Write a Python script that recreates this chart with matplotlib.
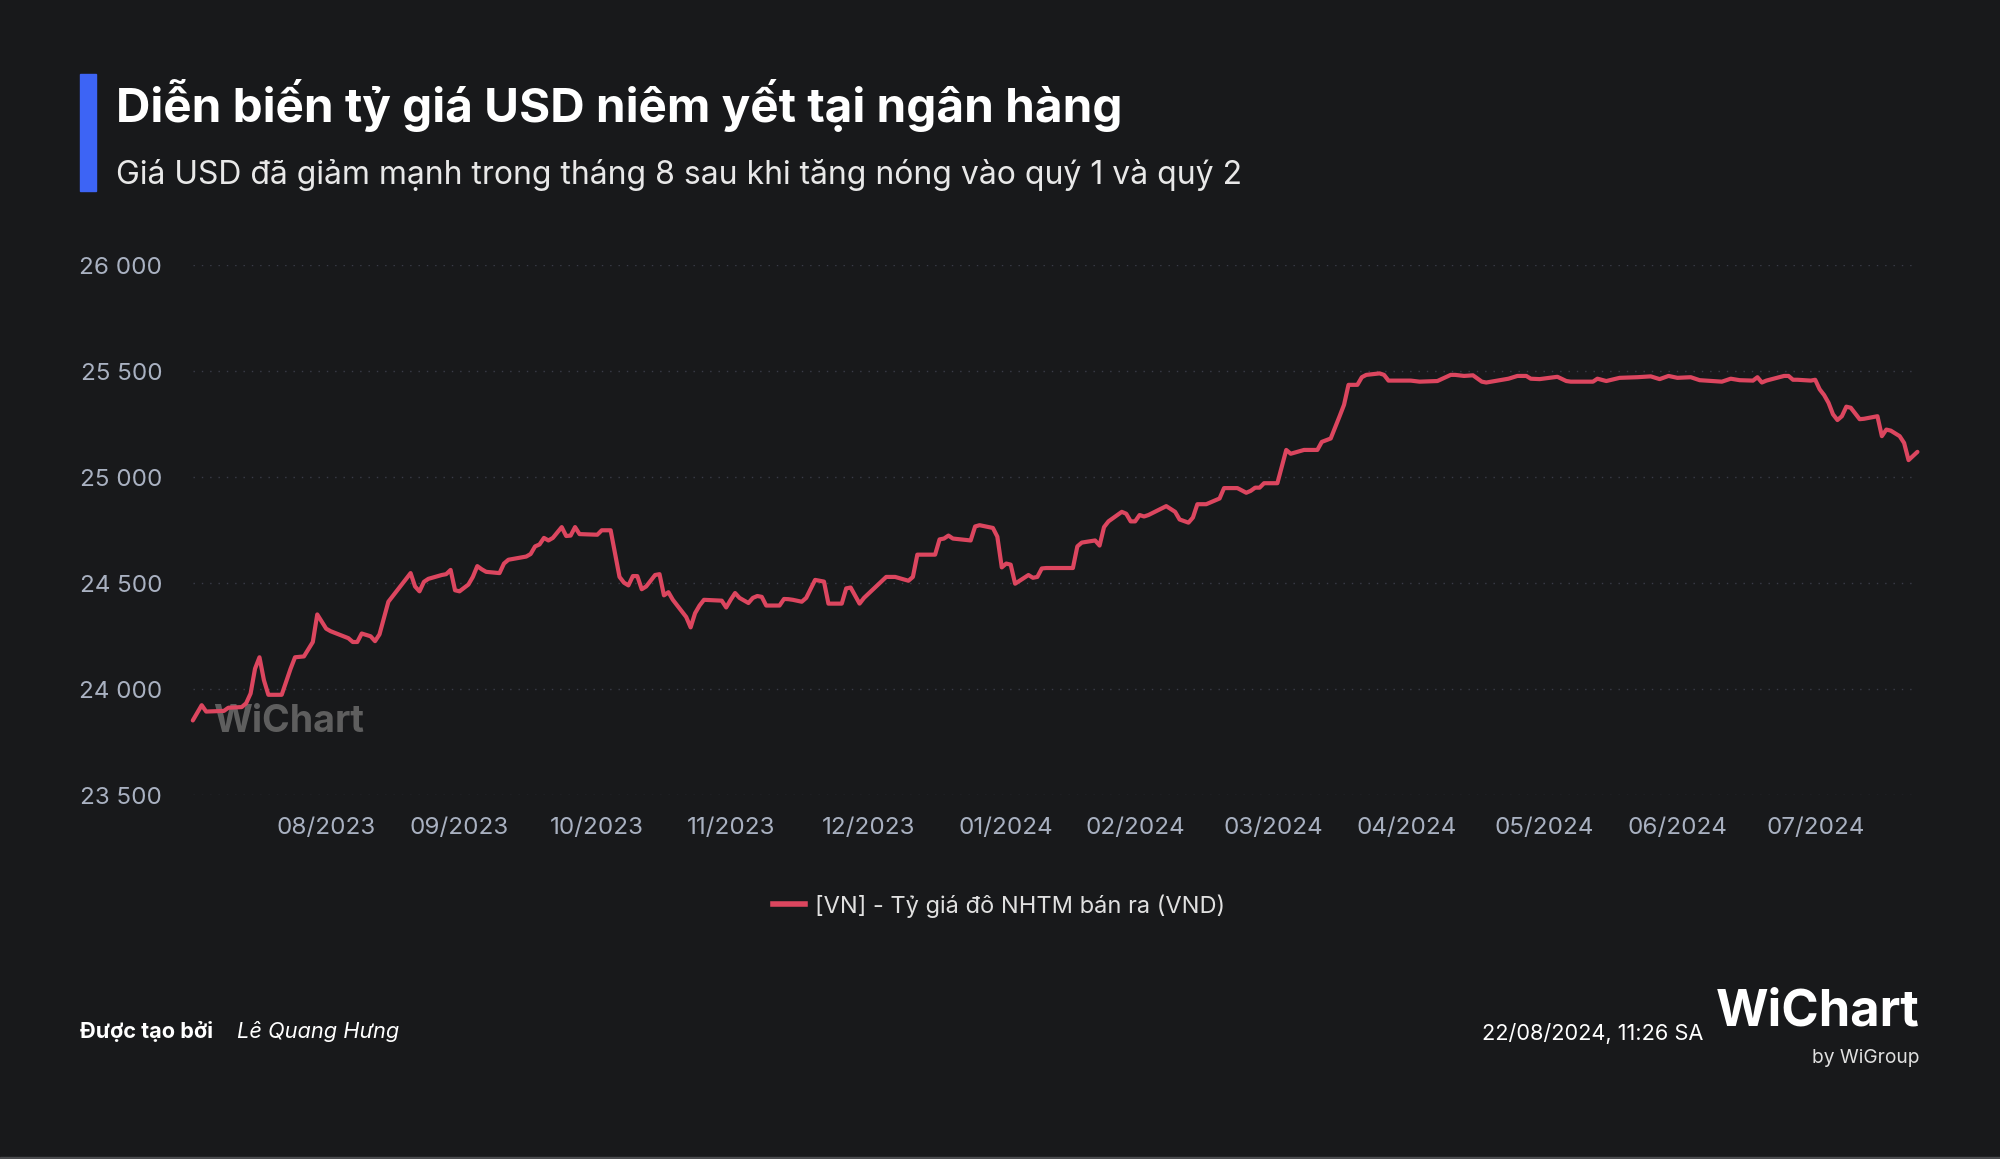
import pandas as pd
import matplotlib
matplotlib.use("Agg")
from matplotlib import pyplot as plt
from matplotlib.patches import Rectangle

plt.rcParams['font.family'] = ['Inter', 'DejaVu Sans']

# data: days since start, selling rate (VND per USD)
start_date = "2023-08-01"
day_offsets = [
    0, 2, 3, 7, 8, 11, 12, 13, 14, 15, 16, 17, 20, 22, 23, 25, 27, 28, 30, 31,
    35, 36, 37, 38, 40, 41, 42, 44, 49, 50, 51, 52, 53, 56, 57, 58, 59, 60, 62, 63,
    64, 65, 66, 69, 70, 71, 75, 76, 77, 78, 79, 80, 81, 83, 84, 85, 86, 87, 91, 92,
    94, 96, 97, 98, 99, 100, 101, 102, 104, 105, 106, 107, 108, 109, 111, 112, 113, 114, 115, 119,
    120, 121, 122, 123, 125, 126, 127, 128, 129, 132, 133, 134, 135, 137, 138, 140, 142, 143, 146, 147,
    148, 150, 151, 156, 158, 161, 162, 163, 167, 168, 169, 170, 171, 175, 176, 177, 180, 181, 182, 183,
    184, 185, 188, 189, 190, 191, 192, 198, 199, 200, 203, 204, 205, 206, 209, 210, 211, 212, 213, 214,
    215, 219, 221, 222, 224, 225, 226, 228, 231, 232, 235, 237, 238, 239, 240, 241, 244, 246, 247, 250,
    253, 254, 256, 258, 259, 260, 262, 263, 264, 267, 268, 269, 274, 276, 280, 283, 284, 286, 288, 290,
    291, 296, 298, 300, 301, 303, 307, 309, 310, 315, 316, 318, 321, 325, 328, 330, 332, 334, 337, 339,
    344, 346, 348, 351, 352, 353, 354, 358, 359, 360, 361, 364, 365, 366, 367, 368, 369, 370, 371, 372,
    373, 375, 376, 379, 380, 381, 382, 384, 385, 386, 388,
]
rate = [
    23852, 23924, 23894, 23897, 23912, 23915, 23933, 23979, 24096, 24150, 24042, 23973, 23973, 24096, 24150, 24154, 24222, 24352, 24285, 24273,
    24240, 24222, 24222, 24262, 24249, 24226, 24258, 24412, 24547, 24484, 24461, 24506, 24520, 24538, 24542, 24562, 24466, 24461, 24493, 24529,
    24580, 24565, 24553, 24547, 24592, 24610, 24625, 24637, 24673, 24682, 24713, 24701, 24713, 24764, 24722, 24724, 24764, 24731, 24728, 24749,
    24749, 24529, 24502, 24489, 24533, 24533, 24471, 24484, 24538, 24542, 24442, 24457, 24421, 24394, 24340, 24291, 24358, 24394, 24421, 24417,
    24385, 24421, 24453, 24430, 24406, 24430, 24439, 24435, 24394, 24394, 24425, 24424, 24421, 24412, 24430, 24515, 24507, 24403, 24403, 24475,
    24479, 24403, 24430, 24529, 24529, 24511, 24529, 24634, 24634, 24706, 24710, 24724, 24710, 24701, 24767, 24773, 24760, 24719, 24574, 24592,
    24587, 24497, 24538, 24525, 24529, 24569, 24571, 24571, 24673, 24691, 24701, 24677, 24764, 24791, 24836, 24827, 24791, 24791, 24821, 24814,
    24821, 24863, 24836, 24800, 24785, 24809, 24872, 24872, 24899, 24948, 24948, 24926, 24935, 24950, 24950, 24971, 24971, 25128, 25110, 25128,
    25128, 25166, 25182, 25287, 25341, 25435, 25435, 25471, 25482, 25489, 25482, 25455, 25455, 25450, 25453, 25482, 25482, 25477, 25480, 25450,
    25446, 25464, 25477, 25477, 25464, 25462, 25473, 25453, 25450, 25450, 25464, 25453, 25468, 25471, 25475, 25462, 25477, 25468, 25471, 25457,
    25450, 25464, 25457, 25455, 25471, 25446, 25455, 25477, 25477, 25459, 25459, 25455, 25459, 25414, 25387, 25350, 25296, 25269, 25287, 25332,
    25327, 25273, 25275, 25287, 25193, 25224, 25219, 25193, 25161, 25080, 25119,
]
y_ticks = [23500, 24000, 24500, 25000, 25500, 26000]
series_name = "[VN] - Tỷ giá đô NHTM bán ra (VND)"

dates = pd.to_datetime(start_date) + pd.to_timedelta(day_offsets, unit="D")
month_ticks = pd.date_range("2023-08-31", "2024-07-31", freq="ME")

bg = "#18191b"
line_color = "#dc465f"
fig = plt.figure(figsize=(20, 11.59), dpi=100, facecolor=bg)
ax = fig.add_axes([0.0964, 0.314, 0.8601, 0.4573], facecolor=bg)

ax.plot(dates, rate, color=line_color, lw=3.0, solid_joinstyle="round",
        solid_capstyle="round", zorder=3, clip_on=False)

ax.set_ylim(23500, 26000)
ax.set_yticks(y_ticks)
ax.set_yticklabels([f"{v:,}".replace(",", " ") for v in y_ticks])
ax.set_xlim(pd.to_datetime(start_date), pd.to_datetime(start_date) + pd.Timedelta(days=387))
ax.set_xticks(month_ticks)
ax.set_xticklabels([d.strftime("%m/%Y") for d in month_ticks])

ax.grid(axis="y", color="#3a3c48", lw=1.0, ls=(0, (1, 5)))
ax.grid(axis="x", visible=False)
for s in ax.spines.values():
    s.set_visible(False)
ax.tick_params(axis="both", length=0, colors="#a9b1c1", labelsize=17.4)
ax.tick_params(axis="y", pad=22)
ax.tick_params(axis="x", pad=16)

# watermark
ax.text(0.012, 0.138, "WiChart", transform=ax.transAxes, fontsize=27, fontweight="bold",
        color="#707070", alpha=0.8, va="center", ha="left", zorder=2)

# title block
fig.patches.append(Rectangle((80 / 2000, 1 - 191 / 1159), 16 / 2000, 117 / 1159,
                             transform=fig.transFigure, color="#3d64f5"))
fig.text(116 / 2000, 1 - 105 / 1159, "Diễn biến tỷ giá USD niêm yết tại ngân hàng",
         fontsize=34.3, fontweight="bold", color="white", va="center", ha="left")
fig.text(116 / 2000, 1 - 175 / 1159,
         "Giá USD đã giảm mạnh trong tháng 8 sau khi tăng nóng vào quý 1 và quý 2",
         fontsize=23, color="#e8e8e8", va="center", ha="left")

# legend
h, = ax.plot([], [], color=line_color, lw=4)
leg = fig.legend([h], [series_name], loc="center", bbox_to_anchor=(999 / 2000, 1 - 906 / 1159),
                 frameon=False, fontsize=17, handlelength=1.35, handletextpad=0.45)
for t in leg.get_texts():
    t.set_color("#e0e0e0")

# footer
fig.text(80 / 2000, 1 - 1031 / 1159, "Được tạo bởi", fontsize=15.6, fontweight="bold",
         color="white", va="center", ha="left")
fig.text(237 / 2000, 1 - 1031 / 1159, "Lê Quang Hưng", fontsize=15.7, fontstyle="italic",
         color="white", va="center", ha="left")
fig.text(1703 / 2000, 1 - 1033 / 1159, "22/08/2024, 11:26 SA", fontsize=15.7,
         color="white", va="center", ha="right")
fig.text(1920 / 2000, 1 - 1012 / 1159, "WiChart", fontsize=36.5, fontweight="bold",
         color="white", va="center", ha="right")
fig.text(1920 / 2000, 1 - 1058 / 1159, "by WiGroup", fontsize=13.8,
         color="#e0e0e0", va="center", ha="right")
fig.patches.append(Rectangle((0, 0), 1, 2 / 1159, transform=fig.transFigure, color="#4a4b4e"))

fig.savefig("out.png", dpi=100, facecolor=bg)
